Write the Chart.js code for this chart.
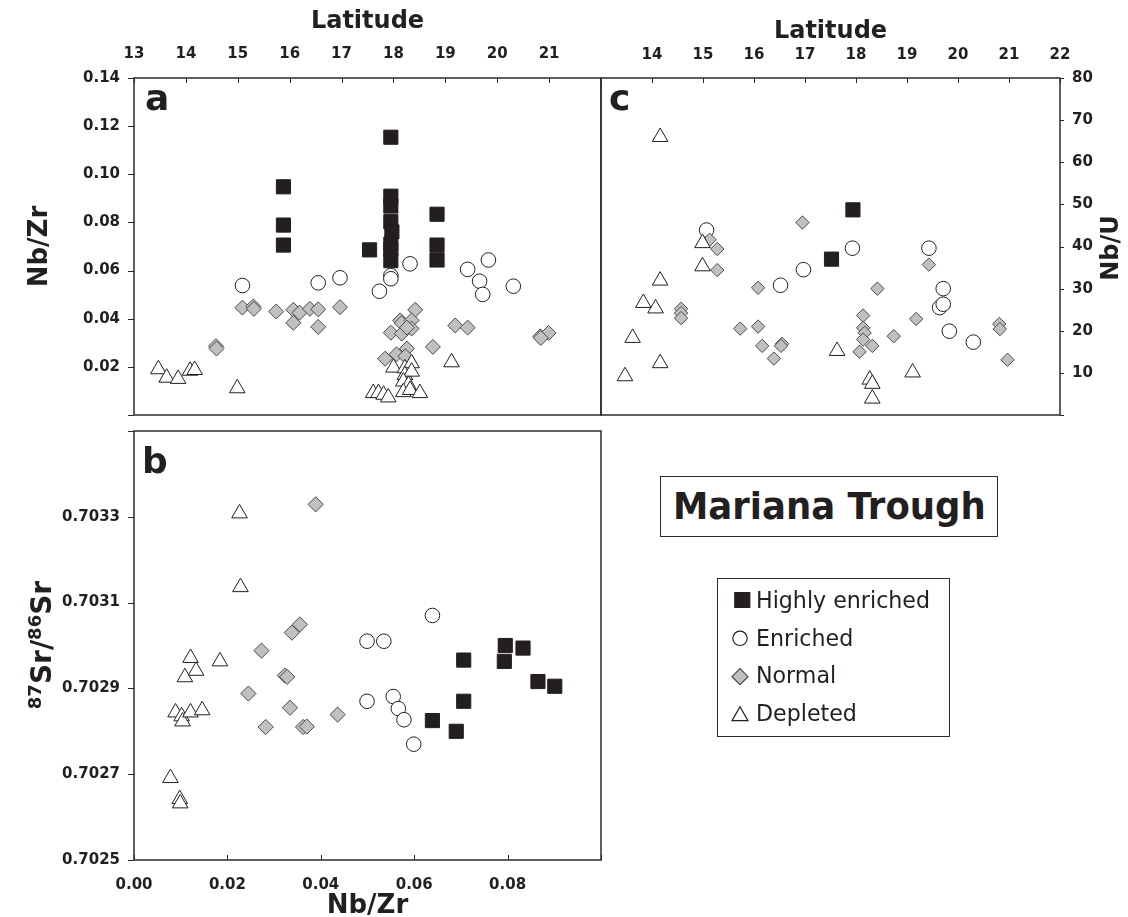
<!DOCTYPE html>
<html>
<head>
<meta charset="utf-8">
<script src="https://cdn.jsdelivr.net/npm/chart.js"></script>
<style>
  html, body { margin: 0; padding: 0; background: #fff; }
  body { width: 1128px; height: 917px; position: relative; overflow: hidden;
         font-family: "DejaVu Sans", Verdana, sans-serif; color: #231f20; }
  canvas { position: absolute; }
  .lbl { position: absolute; white-space: nowrap; line-height: 1; }
  .panel { font-weight: bold; font-size: 36px; }
  #titleBox { position: absolute; left: 660px; top: 476px; width: 338px; height: 61px;
              box-sizing: border-box; border: 1.5px solid #2b2b2b; }
  #titleText { position: absolute; left: 0; width: 100%; top: 10.4px; text-align: center;
               font-weight: bold; font-size: 38px; line-height: 38px; white-space: nowrap; }
  #legendBox { position: absolute; left: 717px; top: 578px; width: 233px; height: 159px;
               box-sizing: border-box; border: 1.5px solid #2b2b2b; }
  .legText { position: absolute; left: 756px; font-size: 23px; line-height: 23px;
             white-space: nowrap; transform-origin: 0 50%; }
  .rot { position: absolute; width: 220px; text-align: center; font-weight: bold;
         white-space: nowrap; transform: rotate(-90deg); transform-origin: 50% 50%; }
  sup { font-size: 18px; line-height: 0; vertical-align: 0.55em; }
</style>
</head>
<body>
<canvas id="chartA" width="604" height="430" style="left:0;top:0"></canvas>
<canvas id="chartC" width="533" height="430" style="left:595px;top:0"></canvas>
<canvas id="chartB" width="604" height="516" style="left:0;top:421px"></canvas>
<canvas id="legendIcons" width="60" height="159" style="left:717px;top:578px"></canvas>

<div class="lbl panel" style="left:145px;top:79.5px">a</div>
<div class="lbl panel" style="left:142px;top:442.8px">b</div>
<div class="lbl panel" style="left:609px;top:79.5px">c</div>

<div class="rot" style="left:-68px;top:631px;height:28px;line-height:28px;font-size:28px"><sup>87</sup>Sr/<sup>86</sup>Sr</div>
<div class="rot" style="left:1000px;top:236px;height:24px;line-height:24px;font-size:24px">Nb/U</div>

<div id="titleBox"><div id="titleText"><span id="titleSpan" style="display:inline-block">Mariana Trough</span></div></div>

<div id="legendBox"></div>
<div class="legText" style="top:588.5px">Highly enriched</div>
<div class="legText" style="top:627px">Enriched</div>
<div class="legText" style="top:664px">Normal</div>
<div class="legText" style="top:702px">Depleted</div>

<script>
// ---- panel a: Nb/Zr against latitude ----
const highLatA = [17.95, 15.88, 15.88, 15.88, 17.95, 17.95, 17.95, 17.97, 17.95, 17.95, 17.95, 17.54, 18.84, 18.84, 18.84];
const highNbZrA = [0.1154, 0.0948, 0.0789, 0.0706, 0.0909, 0.0868, 0.0803, 0.0761, 0.0710, 0.0688, 0.0641, 0.0686, 0.0834, 0.0706, 0.0644];
const enrLatA = [18.32, 19.83, 19.43, 15.09, 16.55, 16.97, 17.95, 17.95, 17.73, 19.66, 19.72, 20.31];
const enrNbZrA = [0.0628, 0.0644, 0.0605, 0.0538, 0.0549, 0.0570, 0.0579, 0.0566, 0.0514, 0.0556, 0.0501, 0.0535];
const normLatA = [15.09, 15.30, 15.31, 15.74, 16.07, 16.19, 16.39, 16.55, 16.97, 16.07, 16.55, 14.58, 14.59,
                  18.42, 18.13, 18.16, 18.35, 17.95, 18.16, 18.35, 18.26, 19.19, 19.43, 20.83, 20.99, 20.84,
                  18.76, 17.84, 18.06, 18.26, 18.23];
const normNbZrA = [0.0446, 0.0451, 0.0441, 0.0430, 0.0437, 0.0425, 0.0441, 0.0439, 0.0448, 0.0383, 0.0366, 0.0286, 0.0276,
                   0.0437, 0.0393, 0.0382, 0.0393, 0.0342, 0.0338, 0.0359, 0.0363, 0.0372, 0.0363, 0.0327, 0.0341, 0.0320,
                   0.0283, 0.0234, 0.0252, 0.0276, 0.0244];
const depLatA = [13.47, 13.63, 13.85, 14.08, 14.17, 14.99, 19.12, 18.00, 18.22, 18.35, 18.22, 18.35, 18.19, 18.29,
                 17.61, 17.71, 17.81, 17.90, 18.19, 18.32, 18.51];
const depNbZrA = [0.0190, 0.0155, 0.0150, 0.0184, 0.0187, 0.0111, 0.0219, 0.0197, 0.0194, 0.0215, 0.0166, 0.0180, 0.0139, 0.0125,
                  0.0091, 0.0091, 0.0084, 0.0073, 0.0095, 0.0104, 0.0091];

// ---- panel c: Nb/U against latitude ----
const highLatC = [17.94, 17.52];
const highNbUC = [48.7, 37.0];
const enrLatC = [15.07, 17.93, 19.43, 16.97, 16.52, 19.71, 19.64, 19.71, 19.83, 20.30];
const enrNbUC = [43.9, 39.6, 39.6, 34.5, 30.8, 30.0, 25.5, 26.3, 19.9, 17.3];
const normLatC = [16.95, 15.13, 15.28, 15.28, 19.43, 16.08, 18.42, 14.57, 14.57, 14.57, 15.73, 16.08, 16.16, 16.55,
                  16.53, 16.39, 18.14, 18.14, 18.17, 18.14, 18.07, 18.32, 18.74, 19.18, 20.81, 20.82, 20.97];
const normNbUC = [45.7, 41.6, 39.4, 34.4, 35.7, 30.2, 30.0, 25.2, 24.2, 23.0, 20.5, 21.0, 16.4, 16.9,
                  16.4, 13.4, 23.6, 20.7, 19.5, 17.9, 15.0, 16.4, 18.7, 22.8, 21.6, 20.4, 13.1];
const depLatC = [14.16, 14.99, 14.99, 14.16, 13.83, 14.07, 13.62, 14.16, 13.47, 17.63, 18.27, 18.32, 18.32, 19.11];
const depNbUC = [66.0, 40.8, 35.3, 31.9, 26.6, 25.3, 18.3, 12.3, 9.2, 15.2, 8.4, 7.4, 3.9, 10.1];

// ---- panel b: 87Sr/86Sr against Nb/Zr ----
const highNbZrB = [0.0706, 0.0795, 0.0833, 0.0793, 0.0865, 0.0901, 0.0706, 0.0639, 0.0690];
const highSrB = [0.702966, 0.703000, 0.702994, 0.702963, 0.702916, 0.702905, 0.702870, 0.702825, 0.702800];
const enrNbZrB = [0.0639, 0.0499, 0.0535, 0.0499, 0.0555, 0.0566, 0.0578, 0.0599];
const enrSrB = [0.703070, 0.703010, 0.703010, 0.702870, 0.702881, 0.702853, 0.702827, 0.702770];
const normNbZrB = [0.0389, 0.0355, 0.0338, 0.0273, 0.0323, 0.0328, 0.0245, 0.0334, 0.0436, 0.0282, 0.0362, 0.0370];
const normSrB = [0.703329, 0.703049, 0.703030, 0.702988, 0.702930, 0.702927, 0.702888, 0.702855, 0.702839, 0.702810, 0.702810, 0.702811];
const depNbZrB = [0.0226, 0.0228, 0.0121, 0.0133, 0.0109, 0.0184, 0.0089, 0.0102, 0.0104, 0.0121, 0.0146, 0.0078, 0.0098, 0.0099];
const depSrB = [0.703308, 0.703136, 0.702971, 0.702941, 0.702926, 0.702963, 0.702844, 0.702835, 0.702823, 0.702844, 0.702849,
                0.702691, 0.702642, 0.702632];

// ---- axis ranges and tick steps ----
const latRange = [13, 22];
const nbZrRangeA = [0, 0.14];
const nbURange = [0, 80];
const nbZrRangeB = [0, 0.1];
const srRange = [0.7025, 0.7035];

const INK = '#231f20';
const FAMILY = '"DejaVu Sans", Verdana, sans-serif';
const tickFont = { family: FAMILY, size: 15, weight: 'bold' };

const styles = {
  high:     { pointStyle: 'rect',     pointBackgroundColor: INK,       pointBorderColor: INK },
  enriched: { pointStyle: 'circle',   pointBackgroundColor: '#ffffff', pointBorderColor: INK },
  normal:   { pointStyle: 'rectRot',  pointBackgroundColor: '#c0c0c0', pointBorderColor: '#4a4a4a' },
  depleted: { pointStyle: 'triangle', pointBackgroundColor: '#ffffff', pointBorderColor: INK }
};
const orderOf = { depleted: 0, normal: 1, enriched: 2, high: 3 };

function pts(xs, ys) { return xs.map((x, i) => ({ x: x, y: ys[i] })); }

function series(label, kind, xs, ys, r) {
  return Object.assign({
    label: label, data: pts(xs, ys), pointRadius: r, pointHoverRadius: r,
    pointBorderWidth: 1, showLine: false, order: orderOf[kind]
  }, styles[kind]);
}

// frame round the plot area plus short tick marks
const framePlugin = {
  id: 'frame',
  afterDatasetsDraw(chart, args, opts) {
    const ctx = chart.ctx, a = chart.chartArea;
    ctx.save();
    ctx.strokeStyle = '#2b2b2b';
    ctx.lineWidth = 1;
    (opts.marks || []).forEach(m => {
      const s = chart.scales[m.axis];
      s.ticks.forEach(t => {
        const p = Math.round(s.getPixelForValue(t.value)) + 0.5;
        ctx.beginPath();
        if (m.edge === 'top') { ctx.moveTo(p, a.top); ctx.lineTo(p, a.top + m.len); }
        if (m.edge === 'bottom') { ctx.moveTo(p, a.bottom); ctx.lineTo(p, a.bottom - m.len); }
        if (m.edge === 'left') { ctx.moveTo(a.left, p); ctx.lineTo(a.left - m.len, p); }
        if (m.edge === 'right') { ctx.moveTo(a.right, p); ctx.lineTo(a.right + m.len, p); }
        ctx.stroke();
      });
    });
    ctx.lineWidth = 1.5;
    ctx.strokeRect(a.left, a.top, a.right - a.left, a.bottom - a.top);
    ctx.restore();
  }
};

function axis(o) {
  return {
    type: 'linear', position: o.position, min: o.range[0], max: o.range[1],
    grid: { display: false, drawTicks: false }, border: { display: false },
    ticks: { stepSize: o.step, autoSkip: false, maxRotation: 0, minRotation: 0,
             padding: o.pad, color: INK, font: tickFont, callback: o.fmt },
    title: o.title ? { display: true, text: o.title, color: INK,
                       font: { family: FAMILY, size: o.titleSize, weight: 'bold', lineHeight: 1.2 },
                       padding: o.titlePad } : { display: false },
    afterFit: s => {
      if (s.isHorizontal()) s.height = o.size; else s.width = o.size;
      // the plot frame is fixed, so end labels must not push it inwards
      s.paddingLeft = 0; s.paddingRight = 0; s.paddingTop = 0; s.paddingBottom = 0;
    }
  };
}

function makeChart(id, datasets, scales, padding, marks) {
  return new Chart(document.getElementById(id), {
    type: 'scatter',
    data: { datasets: datasets },
    options: {
      responsive: false, animation: false, events: [],
      layout: { padding: padding, autoPadding: false },
      scales: scales,
      plugins: { legend: { display: false }, tooltip: { enabled: false }, frame: { marks: marks } }
    },
    plugins: [framePlugin]
  });
}

// panel a
makeChart('chartA', [
  series('Depleted', 'depleted', depLatA, depNbZrA, 9),
  series('Normal', 'normal', normLatA, normNbZrA, 7.5),
  series('Enriched', 'enriched', enrLatA, enrNbZrA, 7.3),
  series('Highly enriched', 'high', highLatA, highNbZrA, 10)
], {
  x: axis({ position: 'top', range: latRange, step: 1, pad: 15, size: 78,
            fmt: v => (v >= 22 ? '' : String(v)),
            title: 'Latitude', titleSize: 24, titlePad: { top: 7.3, bottom: 0 } }),
  y: axis({ position: 'left', range: nbZrRangeA, step: 0.02, pad: 14, size: 134,
            fmt: v => (v < 0.001 ? '' : v.toFixed(2)),
            title: 'Nb/Zr', titleSize: 26, titlePad: { top: 24.4, bottom: 0 } })
}, { left: 0, top: 0, right: 3, bottom: 15 },
[{ axis: 'x', edge: 'top', len: 5 }, { axis: 'y', edge: 'left', len: 6 }]);

// panel c
makeChart('chartC', [
  series('Depleted', 'depleted', depLatC, depNbUC, 9),
  series('Normal', 'normal', normLatC, normNbUC, 6.7),
  series('Enriched', 'enriched', enrLatC, enrNbUC, 7.3),
  series('Highly enriched', 'high', highLatC, highNbUC, 10)
], {
  x: axis({ position: 'top', range: latRange, step: 1, pad: 14, size: 78,
            fmt: v => (v <= 13 ? '' : String(v)),
            title: 'Latitude', titleSize: 24, titlePad: { top: 17.3, bottom: 0 } }),
  y: axis({ position: 'right', range: nbURange, step: 10, pad: 12, size: 68,
            fmt: v => (v === 0 ? '' : String(v)) })
}, { left: 6, top: 0, right: 0, bottom: 15 },
[{ axis: 'x', edge: 'top', len: 5 }, { axis: 'y', edge: 'right', len: 4 }]);

// panel b
makeChart('chartB', [
  series('Depleted', 'depleted', depNbZrB, depSrB, 9),
  series('Normal', 'normal', normNbZrB, normSrB, 7.6),
  series('Enriched', 'enriched', enrNbZrB, enrSrB, 7.3),
  series('Highly enriched', 'high', highNbZrB, highSrB, 10)
], {
  x: axis({ position: 'bottom', range: nbZrRangeB, step: 0.02, pad: 16, size: 77,
            fmt: v => (v > 0.099 ? '' : v.toFixed(2)),
            title: 'Nb/Zr', titleSize: 26, titlePad: { top: 0, bottom: 15.4 } }),
  y: axis({ position: 'left', range: srRange, step: 0.0002, pad: 14, size: 134,
            fmt: v => (v > 0.70349 ? '' : v.toFixed(4)) })
}, { left: 0, top: 10, right: 3, bottom: 0 },
[{ axis: 'x', edge: 'bottom', len: 5 }, { axis: 'y', edge: 'left', len: 6 }]);

// legend symbols
(function () {
  const ctx = document.getElementById('legendIcons').getContext('2d');
  const icons = [
    { kind: 'high', r: 10.6, x: 25.3, y: 22 },
    { kind: 'enriched', r: 7.2, x: 23, y: 60.3 },
    { kind: 'normal', r: 8, x: 23, y: 98.7 },
    { kind: 'depleted', r: 9.2, x: 23, y: 138 }
  ];
  icons.forEach(ic => {
    const st = styles[ic.kind];
    ctx.fillStyle = st.pointBackgroundColor;
    ctx.strokeStyle = st.pointBorderColor;
    ctx.lineWidth = 1.2;
    Chart.helpers.drawPoint(ctx, { pointStyle: st.pointStyle, radius: ic.r, rotation: 0, borderWidth: 1.2 }, ic.x, ic.y);
  });
})();

// narrow the heading and legend text to the box widths
(function () {
  const t = document.getElementById('titleSpan');
  const k = 313 / t.getBoundingClientRect().width;
  t.style.transform = 'scaleX(' + k.toFixed(3) + ')';
  const rows = document.querySelectorAll('.legText');
  const k2 = 174 / rows[0].getBoundingClientRect().width;
  rows.forEach(r => { r.style.transform = 'scaleX(' + k2.toFixed(3) + ')'; });
})();
</script>
</body>
</html>
